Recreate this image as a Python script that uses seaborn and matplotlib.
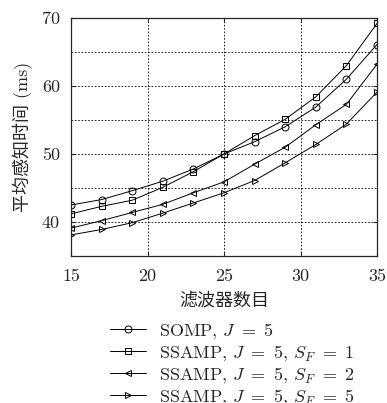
import matplotlib
matplotlib.use("Agg")
import matplotlib.pyplot as plt
import numpy as np
import pandas as pd
import seaborn as sns

# ------------------------------------------------------------------
# Data
# ------------------------------------------------------------------
filters = [15, 17, 19, 21, 23, 25, 27, 29, 31, 33, 35]
somp = [42.5, 43.3, 44.6, 46.0, 47.8, 50.0, 51.8, 54.0, 56.9, 61.0, 66.1]
ssamp_sf1 = [41.2, 42.3, 43.2, 45.1, 47.4, 50.0, 52.7, 55.1, 58.4, 63.0, 69.2]
ssamp_sf2 = [39.1, 40.2, 41.4, 42.6, 44.3, 45.9, 48.5, 51.0, 54.3, 57.3, 63.2]
ssamp_sf5 = [38.1, 38.9, 39.9, 41.3, 42.8, 44.3, 46.1, 48.7, 51.4, 54.4, 59.1]

labels = [
    r"SOMP, $J\ =\ 5$",
    r"SSAMP, $J\ =\ 5$, $S_F\ =\ 1$",
    r"SSAMP, $J\ =\ 5$, $S_F\ =\ 2$",
    r"SSAMP, $J\ =\ 5$, $S_F\ =\ 5$",
]
markers = ["o", "s", "<", ">"]

df = pd.concat(
    [pd.DataFrame({"x": filters, "y": vals, "series": lab})
     for lab, vals in zip(labels, [somp, ssamp_sf1, ssamp_sf2, ssamp_sf5])],
    ignore_index=True,
)

# ------------------------------------------------------------------
# Style
# ------------------------------------------------------------------
sns.set_style("ticks")
plt.rcParams["font.family"] = ["cmr10", "Noto Sans CJK SC", "DejaVu Sans"]
plt.rcParams["mathtext.fontset"] = "cm"
plt.rcParams["axes.unicode_minus"] = False
plt.rcParams["font.size"] = 13

fig = plt.figure(figsize=(3.87, 4.03), dpi=100)
ax = fig.add_axes([71 / 387, 1 - 256 / 403, (377 - 71) / 387, (256 - 18) / 403])

sns.lineplot(
    data=df, x="x", y="y", style="series", hue="series",
    palette=["k"] * 4, markers=dict(zip(labels, markers)), dashes=False,
    linewidth=0.7, markersize=5, markerfacecolor="none",
    markeredgecolor="k", markeredgewidth=0.7, legend=False, ax=ax,
)

ax.set_xlim(15, 35)
ax.set_ylim(35, 70)
ax.set_xticks([15, 20, 25, 30, 35])
ax.set_yticks([40, 50, 60, 70])
ax.set_yticks([45, 55, 65], minor=True)
ax.grid(True, which="both", color="k", linestyle=(0, (2, 2)), linewidth=0.6)
ax.tick_params(direction="in", top=True, right=True, labelsize=13, length=3)
ax.tick_params(axis="y", pad=8)
ax.tick_params(axis="x", pad=9)
ax.tick_params(which="minor", direction="in", left=False, right=False)
for sp in ax.spines.values():
    sp.set_linewidth(0.9)

ax.set_xlabel("滤波器数目", fontsize=13, labelpad=6)
ax.set_ylabel("平均感知时间 (ms)", fontsize=13, labelpad=6)

fig.legend(
    handles=ax.lines[:4], labels=labels, loc="upper left",
    bbox_to_anchor=(110 / 387, 1 - 321 / 403), frameon=False,
    fontsize=13, handlelength=2.0, handletextpad=0.7, labelspacing=0.12,
    borderaxespad=0, borderpad=0,
)

fig.savefig("out.png", dpi=100)
plt.close(fig)
